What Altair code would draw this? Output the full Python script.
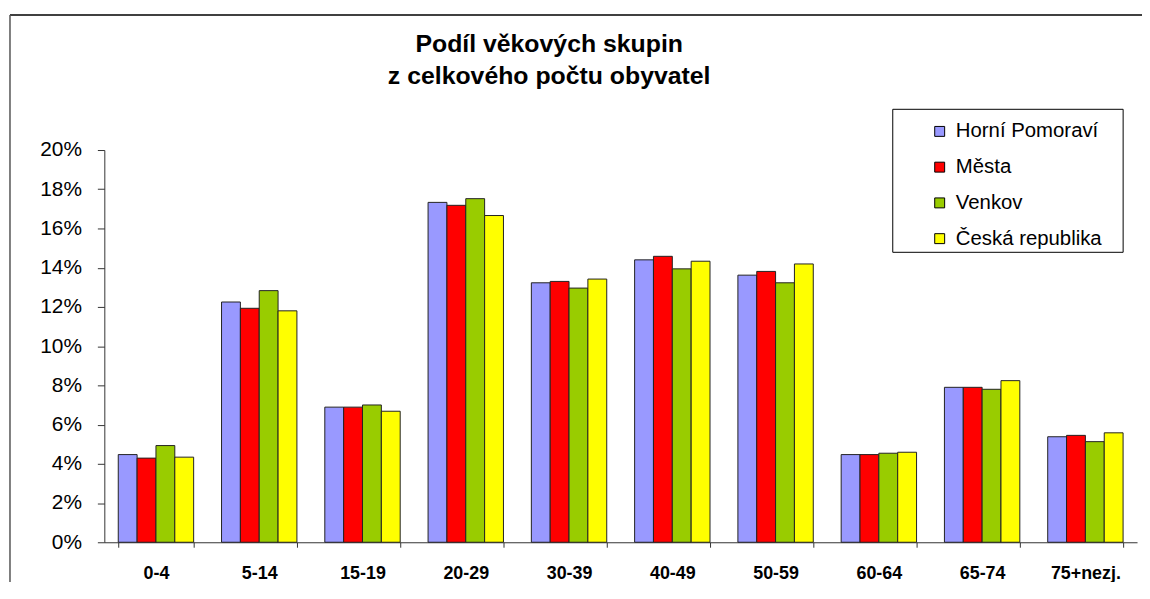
import altair as alt
import pandas as pd

categories = ["0-4", "5-14", "15-19", "20-29", "30-39", "40-49", "50-59", "60-64", "65-74", "75+nezj."]
series = ["Horní Pomoraví", "Města", "Venkov", "Česká republika"]
horni_pomoravi = [4.47, 12.25, 6.89, 17.33, 13.23, 14.40, 13.62, 4.47, 7.90, 5.38]
mesta = [4.29, 11.93, 6.89, 17.18, 13.30, 14.58, 13.81, 4.47, 7.90, 5.45]
venkov = [4.93, 12.83, 7.00, 17.52, 12.96, 13.94, 13.23, 4.54, 7.80, 5.13]
ceska_republika = [4.34, 11.80, 6.68, 16.66, 13.42, 14.33, 14.19, 4.59, 8.24, 5.58]
colors = ["#9999FF", "#FF0000", "#99CC00", "#FFFF00"]
y_ticks = [0, 2, 4, 6, 8, 10, 12, 14, 16, 18, 20]
title_lines = ["Podíl věkových skupin", "z celkového počtu obyvatel"]

rows = []
for name, vals in zip(series, [horni_pomoravi, mesta, venkov, ceska_republika]):
    for c, v in zip(categories, vals):
        rows.append({"kategorie": c, "serie": name, "hodnota": v})
df = pd.DataFrame(rows)

FONT = "Liberation Sans"

bars = alt.Chart(df).mark_bar(stroke="#222222", strokeWidth=1).encode(
    x=alt.X("kategorie:N", sort=categories, title=None,
            scale=alt.Scale(paddingInner=0.27, paddingOuter=0.135),
            axis=alt.Axis(labelAngle=0, labelFontSize=18, labelFontWeight="bold",
                          labelFont=FONT, labelColor="#000000", tickBand="extent",
                          tickSize=5, tickColor="#333333", domainColor="#333333",
                          labelPadding=17, grid=False)),
    xOffset=alt.XOffset("serie:N", sort=series),
    y=alt.Y("hodnota:Q", title=None,
            scale=alt.Scale(domain=[0, 20], nice=False),
            axis=alt.Axis(values=y_ticks, labelExpr="datum.value + '%'",
                          labelFontSize=21, labelFont=FONT, labelColor="#000000",
                          tickSize=7, tickColor="#333333", domainColor="#333333",
                          labelPadding=16, grid=False)),
    color=alt.Color("serie:N", sort=series,
                    scale=alt.Scale(domain=series, range=colors),
                    legend=alt.Legend(title=None, orient="none", legendX=831, legendY=-29,
                                      symbolType="square", symbolSize=100,
                                      symbolStrokeColor="#000000", symbolStrokeWidth=1,
                                      labelFontSize=20.5, labelFont=FONT, labelColor="#000000",
                                      labelOffset=6, rowPadding=15, padding=0,
                                      labelLimit=300)),
)

one = pd.DataFrame({"a": [0]})
legend_box = alt.Chart(one).mark_rect(fill="#FFFFFF", stroke="#000000", strokeWidth=1).encode(
    x=alt.value(794), x2=alt.value(1026), y=alt.value(-41), y2=alt.value(103))
border_top = alt.Chart(one).mark_rule(color="#000000", strokeWidth=1.5).encode(
    x=alt.value(-95), x2=alt.value(1060), y=alt.value(-136))
border_left = alt.Chart(one).mark_rule(color="#555555", strokeWidth=1.5).encode(
    x=alt.value(-95), y=alt.value(-136), y2=alt.value(460))
title = alt.Chart(one).mark_text(font=FONT, fontSize=25, fontWeight="bold", color="#000000",
                                 align="center", baseline="alphabetic", lineHeight=33).encode(
    x=alt.value(448), y=alt.value(-99), text=alt.value(title_lines))

chart = alt.layer(bars, legend_box, border_top, border_left, title).properties(
    width=1040, height=395,
    autosize=alt.AutoSizeParams(type="none"),
    padding={"left": 97, "top": 141, "right": 5, "bottom": 38},
    background="#FFFFFF",
).configure_view(stroke=None)

chart.save("out.html", embed_options={"renderer": "svg", "actions": False})
